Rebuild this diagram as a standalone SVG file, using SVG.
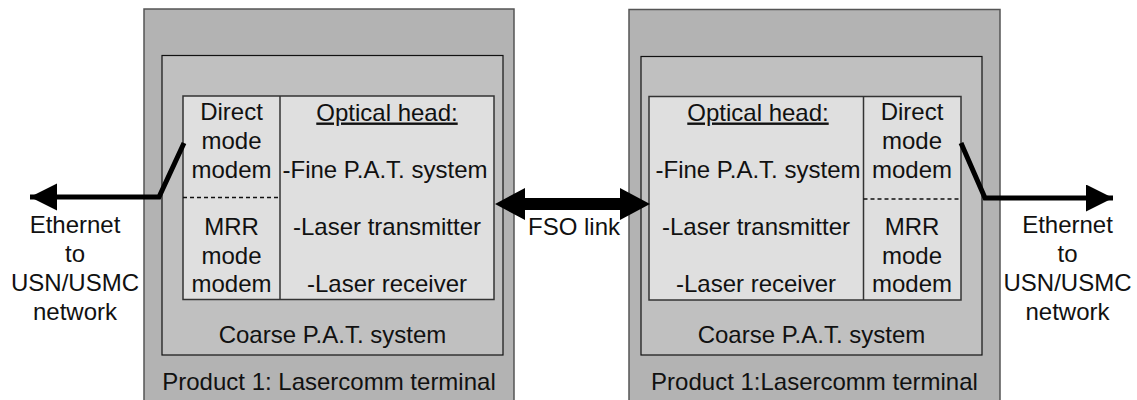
<svg xmlns="http://www.w3.org/2000/svg" width="1137" height="400" viewBox="0 0 1137 400">
<defs>
<style>
.t{font-family:"Liberation Sans",Arial,sans-serif;font-size:24px;fill:#111;text-anchor:middle}
.outer{fill:#b3b3b3;stroke:#555;stroke-width:1.5}
.inner{fill:#c0c0c0;stroke:#111;stroke-width:1.2}
.head{fill:#dfdfdf;stroke:#333;stroke-width:1.5}
.div{stroke:#333;stroke-width:1.5}
.dash{stroke:#111;stroke-width:1.5;stroke-dasharray:4 3}
.conn{fill:none;stroke:#000;stroke-width:5;stroke-linejoin:miter}
</style>
<marker id="ah" markerUnits="userSpaceOnUse" markerWidth="28" markerHeight="28" refX="27" refY="13.5" orient="auto">
<path d="M0,0 L27,13.5 L0,27 z" fill="#000"/>
</marker>
</defs>
<g id="terminal1">
<rect class="outer" x="144" y="9" width="370" height="395"/>
<rect class="inner" x="162" y="55.5" width="341" height="299.5"/>
<rect class="head" x="183" y="96" width="311" height="203.5"/>
<line class="div" x1="280" y1="96" x2="280" y2="299.5"/>
<line class="dash" x1="183" y1="197.5" x2="280" y2="197.5"/>
<text class="t" x="231.5" y="120">Direct</text>
<text class="t" x="231.5" y="149">mode</text>
<text class="t" x="231.5" y="177.5">modem</text>
<text class="t" x="231.5" y="235">MRR</text>
<text class="t" x="231.5" y="263.5">mode</text>
<text class="t" x="231.5" y="292">modem</text>
<text class="t" x="387" y="120.5" text-decoration="underline">Optical head:</text>
<text class="t" x="385" y="177.5">-Fine P.A.T. system</text>
<text class="t" x="387" y="235">-Laser transmitter</text>
<text class="t" x="387" y="292">-Laser receiver</text>
<text class="t" x="332.5" y="343">Coarse P.A.T. system</text>
<text class="t" x="329" y="390">Product 1: Lasercomm terminal</text>
</g>
<g id="terminal2">
<rect class="outer" x="629" y="9.5" width="371" height="395"/>
<rect class="inner" x="641" y="56.5" width="341" height="298.5"/>
<rect class="head" x="649" y="96.5" width="312" height="203.5"/>
<line class="div" x1="863.5" y1="96.5" x2="863.5" y2="300"/>
<line class="dash" x1="863.5" y1="199" x2="961" y2="199"/>
<text class="t" x="758" y="120.5" text-decoration="underline">Optical head:</text>
<text class="t" x="758" y="177.5">-Fine P.A.T. system</text>
<text class="t" x="756" y="235">-Laser transmitter</text>
<text class="t" x="756" y="292">-Laser receiver</text>
<text class="t" x="912" y="120">Direct</text>
<text class="t" x="912" y="149">mode</text>
<text class="t" x="912" y="177.5">modem</text>
<text class="t" x="912" y="235">MRR</text>
<text class="t" x="912" y="263.5">mode</text>
<text class="t" x="912" y="292">modem</text>
<text class="t" x="811.5" y="343">Coarse P.A.T. system</text>
<text class="t" x="814.5" y="390">Product 1:Lasercomm terminal</text>
</g>
<g id="ethernet-left">
<text class="t" x="75" y="233">Ethernet</text>
<text class="t" x="75" y="262">to</text>
<text class="t" x="75" y="291">USN/USMC</text>
<text class="t" x="75" y="320">network</text>
</g>
<g id="ethernet-right">
<text class="t" x="1067.5" y="233">Ethernet</text>
<text class="t" x="1067.5" y="262">to</text>
<text class="t" x="1067.5" y="291">USN/USMC</text>
<text class="t" x="1067.5" y="320">network</text>
</g>
<g id="connectors">
<polyline class="conn" points="184,143 159,197 30,197" marker-end="url(#ah)"/>
<polyline class="conn" points="961,143 985,198 1113,198" marker-end="url(#ah)"/>
<polygon points="495,204 525,188 525,198 620,198 620,188 650,204 620,220 620,210 525,210 525,220" fill="#000"/>
<text class="t" x="574" y="235">FSO link</text>
</g>
</svg>
